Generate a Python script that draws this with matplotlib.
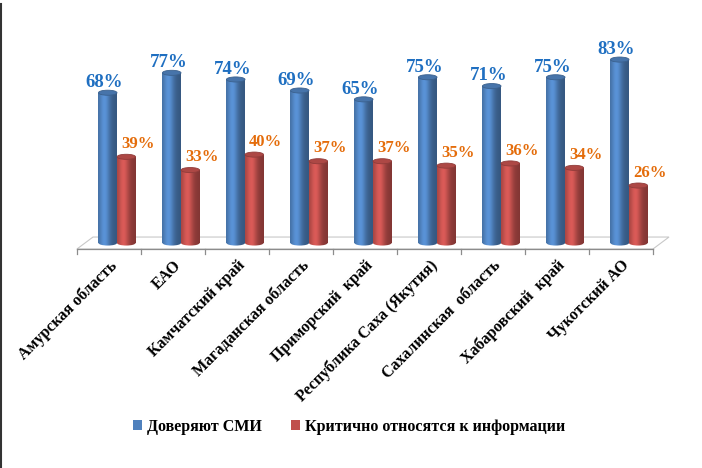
import numpy as np
import matplotlib
matplotlib.use("Agg")
import matplotlib.pyplot as plt
from matplotlib.patches import Rectangle, Ellipse, Patch, Polygon
from matplotlib.lines import Line2D
from matplotlib.colors import to_rgb

plt.rcParams["font.family"] = ["Liberation Serif", "DejaVu Serif"]
plt.rcParams["font.weight"] = "bold"

# ── data ──────────────────────────────────────
regions = ["Амурская область", "ЕАО", "Камчатский край", "Магаданская область",
           "Приморский  край", "Республика Саха (Якутия)", "Сахалинская  область",
           "Хабаровский  край", "Чукотский АО"]
trust = [68, 77, 74, 69, 65, 75, 71, 75, 83]
critical = [39, 33, 40, 37, 37, 35, 36, 34, 26]
series_names = ["Доверяют СМИ", "Критично относятся к информации"]

BLUE = "#4f81bd"
RED = "#c0504d"
BLUE_TXT = "#1f6fc1"
ORANGE_TXT = "#e46c0a"

W, H = 702, 468
fig = plt.figure(figsize=(W / 100, H / 100), dpi=100)
ylo, yhi = -6, 95
px_per = 2.21
bottom_px = 243 + (-ylo) * px_per
top_px = 243 - yhi * px_per
ax = fig.add_axes([53 / W, 1 - bottom_px / H, 640 / W, (bottom_px - top_px) / H])
ax.set_xlim(-1, 9)
ax.set_ylim(ylo, yhi)
ax.axis("off")


def shade(color, n=64):
    """Horizontal gradient that makes a bar look like a cylinder."""
    t = np.linspace(0, 1, n)
    k = 0.8 + 0.38 * np.exp(-((t - 0.35) / 0.28) ** 2) - 0.12 * t
    c = np.array(to_rgb(color))
    rgb = np.clip(c[None, :] * k[:, None], 0, 1)
    return rgb[None, :, :]


def cylinder(x, h, w, color):
    img = shade(color)
    eh = 2.3
    rect = Rectangle((x - w / 2, 0), w, h, facecolor="none", edgecolor="none")
    ax.add_patch(rect)
    im = ax.imshow(img, extent=(x - w / 2, x + w / 2, -eh, h), aspect="auto", zorder=3)
    im.set_clip_path(rect)
    bot = Ellipse((x, 0), w, eh, facecolor="none", edgecolor="none")
    ax.add_patch(bot)
    im2 = ax.imshow(img, extent=(x - w / 2, x + w / 2, -eh, h), aspect="auto", zorder=3)
    im2.set_clip_path(bot)
    c = np.array(to_rgb(color))
    ax.add_patch(Ellipse((x, h), w, eh, facecolor=np.clip(c * 0.9, 0, 1),
                         edgecolor=np.clip(c * 0.75, 0, 1), lw=0.6, zorder=4))


# ── 3D floor ──────────────────────────────────
n = len(regions)
fx0, fx1 = -0.625, n - 0.625
dx, fy, by = 0.25, -2.7, 2.7
floor = Polygon([(fx0, fy), (fx1, fy), (fx1 + dx, by), (fx0 + dx, by)], closed=True,
                facecolor="white", edgecolor="#c8c8c8", lw=0.8, zorder=1)
ax.add_patch(floor)
ax.plot([fx0, fx1], [fy, fy], color="#8c8c8c", lw=0.9, zorder=2)
for k in range(n + 1):
    ax.plot([fx0 + k, fx0 + k], [fy, fy - 2.2], color="#8c8c8c", lw=0.9, zorder=2,
            clip_on=False)

bw = 0.29
x = np.arange(n)
for i in range(n):
    cylinder(x[i] - bw / 2, trust[i], bw, BLUE)
    cylinder(x[i] + bw / 2, critical[i], bw, RED)
    ax.text(x[i] - bw / 2 - 0.05, trust[i] + 2.6, f"{trust[i]}%", color=BLUE_TXT,
            fontsize=13.5, fontweight="bold", ha="center", va="baseline", zorder=5)
    ax.text(x[i] + bw / 2 + 0.18, critical[i] + 4.0, f"{critical[i]}%", color=ORANGE_TXT,
            fontsize=12, fontweight="bold", ha="center", va="baseline", zorder=5)
    ax.text(x[i] - 0.125, -6.5, regions[i], rotation=45, rotation_mode="anchor",
            ha="right", va="top", fontsize=11.5, fontweight="bold", color="black",
            clip_on=False)

handles = [Patch(facecolor=BLUE, edgecolor="none"), Patch(facecolor=RED, edgecolor="none")]
fig.legend(handles, series_names, loc="center", bbox_to_anchor=(0.497, 0.088), ncol=2,
           frameon=False, handlelength=0.6, handleheight=0.6, handletextpad=0.3,
           columnspacing=1.8, prop={"size": 11.5, "weight": "bold"})

# thin dark border on the left edge of the picture
fig.add_artist(Line2D([0.0015, 0.0015], [0, 1 - 4 / H], transform=fig.transFigure,
                      color="#333333", lw=1.5))

fig.savefig("out.png", dpi=100)
